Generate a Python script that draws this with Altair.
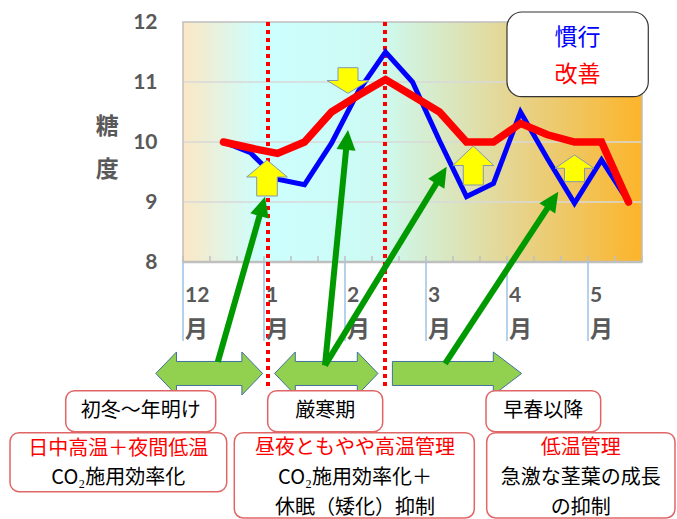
import math
import altair as alt
import pandas as pd

# ---------------- data ----------------
# 旬 categories: 0..16 (12月上旬 .. 5月中旬); data start at category 1
cats = list(range(1, 17))
kanko = [10.0, 9.82, 9.38, 9.29, 9.98, 10.85, 11.5, 11.0, 10.02, 9.09, 9.31, 10.5, 9.72, 8.98, 9.7, 9.0]
kaizen = [10.0, 9.9, 9.81, 10.0, 10.5, 10.78, 11.04, 10.77, 10.5, 10.0, 10.0, 10.31, 10.12, 10.0, 10.0, 9.0]
series_names = ["慣行", "改善"]
month_labels = ["12", "1", "2", "3", "4", "5"]
month_starts = [0, 3, 6, 9, 12, 15]
y_ticks = [8, 9, 10, 11, 12]
grid_vals = [9, 10, 11]
period_bounds = [3.148, 7.481]          # 厳寒期 boundaries (dotted lines)

# annotation texts
box_titles = ["初冬～年明け", "厳寒期", "早春以降"]
box_red = ["日中高温＋夜間低温", "昼夜ともやや高温管理", "低温管理"]
box_black = [["CO₂施用効率化"], ["CO₂施用効率化＋", "休眠（矮化）抑制"], ["急激な茎葉の成長", "の抑制"]]

# ---------------- layout (in data units of the chart scales) ----------------
W, H = 459, 240
NCAT = 17
XPX, YPX = W / NCAT, H / 4

xs = alt.Scale(domain=[0, NCAT], nice=False, zero=False)
ys = alt.Scale(domain=[8, 12], nice=False, zero=False)
yaxis = alt.Axis(values=y_ticks, title=None, ticks=False, tickSize=0, domain=False, grid=False,
                 labelFont="Lato", labelFontSize=21, labelFontWeight="bold", labelColor="#595959",
                 labelPadding=26)


def X(f, **kw):
    return alt.X(f, scale=xs, axis=None, **kw)


def Y(f, **kw):
    return alt.Y(f, scale=ys, axis=yaxis, **kw)


gradient = alt.LinearGradient(
    gradient="linear", x1=0, x2=1, y1=0, y2=0,
    stops=[alt.GradientStop(offset=0, color="#FCE7C4"),
           alt.GradientStop(offset=0.17, color="#CCFFFF"),
           alt.GradientStop(offset=0.43, color="#CDFAF2"),
           alt.GradientStop(offset=0.70, color="#E4D796"),
           alt.GradientStop(offset=1, color="#FCB42A")])

bg = alt.Chart(pd.DataFrame({"x": [0], "x2": [NCAT], "y": [8], "y2": [12]})).mark_rect(
    fill=gradient).encode(x=X("x:Q"), x2="x2:Q", y=Y("y:Q"), y2="y2:Q")

border = alt.Chart(pd.DataFrame({"x": [0], "x2": [NCAT], "y": [8], "y2": [12]})).mark_rect(
    fillOpacity=0, stroke="#BFBFBF", strokeWidth=1.5).encode(x=X("x:Q"), x2="x2:Q", y=Y("y:Q"), y2="y2:Q")

grid = alt.Chart(pd.DataFrame({"y": grid_vals, "x": 0, "x2": NCAT})).mark_rule(
    color="#D9D9D9", strokeWidth=1.5).encode(x=X("x:Q"), x2="x2:Q", y=Y("y:Q"))

axis_line = alt.Chart(pd.DataFrame({"y": [8], "x": [0], "x2": [NCAT]})).mark_rule(
    color="#BFBFBF", strokeWidth=2.5).encode(x=X("x:Q"), x2="x2:Q", y=Y("y:Q"))

ticks = alt.Chart(pd.DataFrame({"x": list(range(NCAT + 1)), "y": 8, "y2": 8 + 6 / YPX})).mark_rule(
    color="#BFBFBF", strokeWidth=1.5).encode(x=X("x:Q"), y=Y("y:Q"), y2="y2:Q")

dotted = alt.Chart(pd.DataFrame({"x": period_bounds, "y": 12, "y2": 5.867})).mark_rule(
    color="#FF0000", strokeWidth=4, strokeDash=[4, 4]).encode(x=X("x:Q"), y=Y("y:Q"), y2="y2:Q")

month_div = alt.Chart(pd.DataFrame({"x": month_starts, "y": 8, "y2": 6.683})).mark_rule(
    color="#9DC3E6", strokeWidth=1.5).encode(x=X("x:Q"), y=Y("y:Q"), y2="y2:Q")

mdf = pd.DataFrame({"x": [m + 2 / XPX for m in month_starts], "t": month_labels, "y": 7.437, "y2": 6.867})
month_num = alt.Chart(mdf).mark_text(align="left", baseline="middle", font="Lato", fontWeight="bold",
                                     fontSize=21, color="#595959").encode(x=X("x:Q"), y=Y("y:Q"), text="t:N")
month_kanji = alt.Chart(mdf.assign(k="月")).mark_text(
    align="left", baseline="middle", font="Noto Sans CJK JP", fontWeight="bold", fontSize=23,
    color="#595959").encode(x=X("x:Q"), y=Y("y2:Q"), text="k:N")

ytitle = alt.Chart(pd.DataFrame({"t": ["糖", "度"], "x": -2.804, "y": [10.255, 9.533]})).mark_text(
    align="center", baseline="middle", font="Noto Sans CJK JP", fontWeight="bold", fontSize=23,
    color="#595959").encode(x=X("x:Q"), y=Y("y:Q"), text="t:N")

ldf = pd.DataFrame({"x": [c + 0.5 for c in cats], "kanko": kanko, "kaizen": kaizen})
line_blue = alt.Chart(ldf).mark_line(color="#0000FF", strokeWidth=5, strokeCap="round").encode(
    x=X("x:Q"), y=Y("kanko:Q"))
line_red = alt.Chart(ldf).mark_line(color="#FF0000", strokeWidth=7.5, strokeCap="round").encode(
    x=X("x:Q"), y=Y("kaizen:Q"))

# block arrow shapes (pixel units; size=4 -> scale factor 1)
ynames = ["u1", "d1", "u2", "u3"]
ypaths = ["M0,-18 L20.3,-1 L10.3,-1 L10.3,18 L-10.3,18 L-10.3,-1 L-20.3,-1 Z",
          "M0,12.8 L21,0 L10,0 L10,-12.8 L-10,-12.8 L-10,0 L-21,0 Z",
          "M0,-19.5 L20.5,0 L10,0 L10,19.5 L-10,19.5 L-10,0 L-20.5,0 Z",
          "M0,-13.3 L19.5,0 L10,0 L10,13.4 L-10,13.4 L-10,0 L-19.5,0 Z"]
gnames = ["g1", "g2", "g3"]
gpaths = ["M-53.4,0 L-32.7,-21.5 L-32.7,-12 L32.7,-12 L32.7,-21.5 L53.4,0 L32.7,21.5 L32.7,12 L-32.7,12 L-32.7,21.5 Z",
          "M-51.7,0 L-31,-21.5 L-31,-12 L31,-12 L31,-21.5 L51.7,0 L31,21.5 L31,12 L-31,12 L-31,21.5 Z",
          "M-64.6,-12 L36.3,-12 L36.3,-21.5 L64.6,0 L36.3,21.5 L36.3,12 L-64.6,12 Z"]
shape_scale = alt.Scale(domain=ynames + gnames, range=ypaths + gpaths)

ydf = pd.DataFrame({"n": ynames, "x": [3.111, 6.111, 10.751, 14.5], "y": [9.4, 11.025, 9.608, 9.562]})
yellow = alt.Chart(ydf).mark_point(filled=True, fill="#FFFF00", stroke="#8497B0", strokeWidth=1,
                                   opacity=1, size=4).encode(
    x=X("x:Q"), y=Y("y:Q"), shape=alt.Shape("n:N", scale=shape_scale, legend=None))

gdf = pd.DataFrame({"n": gnames, "x": [0.970, 5.307, 10.148], "y": 6.142})
garrows = alt.Chart(gdf).mark_point(filled=True, fill="#92D050", stroke="#41719C", strokeWidth=1,
                                    opacity=1, size=4).encode(
    x=X("x:Q"), y=Y("y:Q"), shape=alt.Shape("n:N", scale=shape_scale, legend=None))

# boxes
bdf = pd.DataFrame({
    "x": [-4.344, -6.407, 3.137, 1.9, 11.222, 11.248],
    "x2": [1.211, 1.619, 7.396, 10.789, 15.470, 18.222],
    "y": [5.855, 5.155, 5.855, 5.155, 5.855, 5.155],
    "y2": [5.172, 4.172, 5.172, 3.733, 5.172, 3.733],
})
boxes = alt.Chart(bdf).mark_rect(fill="white", stroke="#E06666", strokeWidth=1.5, cornerRadius=9).encode(
    x=X("x:Q"), x2="x2:Q", y=Y("y:Q"), y2="y2:Q")

tx_title = [-1.567, 5.267, 13.344]
tx_body = [-2.396, 6.370, 14.733]
rows = []
for i in range(3):
    rows.append({"t": box_titles[i], "x": tx_title[i], "y": 5.513, "c": "#000000"})
    rows.append({"t": box_red[i], "x": tx_body[i], "y": 4.908 if i else 4.880, "c": "#FF0000"})
    for j, s in enumerate(box_black[i]):
        rows.append({"t": s, "x": tx_body[i], "y": 4.395 - j * 0.487, "c": "#000000"})
texts = alt.Chart(pd.DataFrame(rows)).mark_text(
    align="center", baseline="middle", font="Noto Sans CJK JP", fontSize=20).encode(
    x=X("x:Q"), y=Y("y:Q"), text="t:N", color=alt.Color("c:N", scale=None))

# dark green pointer arrows
green_lines = [(1.289, 6.335, 3.037, 9.088), (5.259, 6.277, 6.111, 10.2),
               (5.259, 6.277, 9.767, 9.588), (9.707, 6.307, 13.9, 9.172)]
seg, heads = [], []
for (x0, y0, x1, y1) in green_lines:
    dx, dy = (x1 - x0) * XPX, (y1 - y0) * YPX
    L = math.hypot(dx, dy)
    cut = 14
    seg.append({"x": x0, "y": y0, "x2": x1 - cut * dx / L / XPX, "y2": y1 - cut * dy / L / YPX})
    heads.append({"x": x1, "y": y1, "a": math.degrees(math.atan2(dx, dy))})
glines = alt.Chart(pd.DataFrame(seg)).mark_rule(color="#009A00", strokeWidth=6).encode(
    x=X("x:Q"), x2="x2:Q", y=Y("y:Q"), y2="y2:Q")
gheads = alt.Chart(pd.DataFrame(heads)).mark_point(
    filled=True, fill="#009A00", opacity=1, size=4, shape="M0,0 L9.5,20 L-9.5,20 Z", strokeWidth=0).encode(
    x=X("x:Q"), y=Y("y:Q"), angle=alt.Angle("a:Q", scale=None))

# legend box
legbox = alt.Chart(pd.DataFrame({"x": [12.0], "x2": [17.233], "y": [12.167], "y2": [10.755]})).mark_rect(
    fill="white", stroke="#333333", strokeWidth=1.2, cornerRadius=15).encode(
    x=X("x:Q"), x2="x2:Q", y=Y("y:Q"), y2="y2:Q")
legtext = alt.Chart(pd.DataFrame({"t": series_names, "x": 14.611, "y": [11.728, 11.117],
                                  "c": ["#0000FF", "#FF0000"]})).mark_text(
    align="center", baseline="middle", font="Noto Sans CJK JP", fontSize=23).encode(
    x=X("x:Q"), y=Y("y:Q"), text="t:N", color=alt.Color("c:N", scale=None))

chart = alt.layer(
    bg, grid, border, axis_line, ticks, dotted, month_div, month_num, month_kanji, ytitle,
    line_blue, line_red, yellow, garrows, boxes, texts, glines, gheads, legbox, legtext
).properties(
    width=W, height=H,
    autosize=alt.AutoSizeParams(type="none"),
    padding={"left": 183, "top": 22, "right": 35, "bottom": 257},
).configure(background="white").configure_view(stroke=None)

chart.save("out.html", embed_options={"renderer": "svg", "actions": False})
